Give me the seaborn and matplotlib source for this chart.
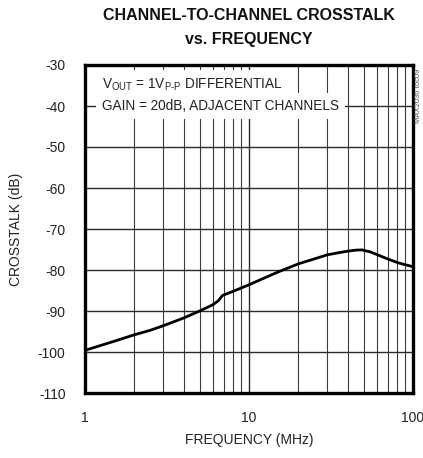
import matplotlib
matplotlib.use("Agg")
import matplotlib.pyplot as plt
import seaborn as sns
import pandas as pd
from matplotlib.ticker import FixedLocator, NullFormatter

# values
freq_mhz = [1, 1.5, 2, 2.5, 3, 4, 5, 6, 6.5, 6.9, 8, 10, 12, 15, 20, 25, 30, 35,
            40, 45, 49, 55, 60, 70, 82, 100]
crosstalk_db = [-99.6, -97.4, -95.8, -94.7, -93.6, -91.7, -90.0, -88.5, -87.5, -86.2,
                -85.2, -83.6, -82.2, -80.5, -78.5, -77.3, -76.3, -75.8, -75.4, -75.15,
                -75.1, -75.6, -76.2, -77.3, -78.3, -79.2]

y_ticks = [-30, -40, -50, -60, -70, -80, -90, -100, -110]
x_ticks = [1, 10, 100]
x_minor = [2, 3, 4, 5, 6, 7, 8, 9, 20, 30, 40, 50, 60, 70, 80, 90]

df = pd.DataFrame({"freq": freq_mhz, "xt": crosstalk_db})

sns.set_style("white")
fam = ["Liberation Sans", "DejaVu Sans"]
plt.rcParams["font.family"] = fam
plt.rcParams["mathtext.fontset"] = "custom"
plt.rcParams["mathtext.rm"] = "Liberation Sans"

fig = plt.figure(figsize=(4.23, 4.58), dpi=100)
ax = fig.add_axes([85 / 423, 1 - 393 / 458, 328 / 423, 328 / 458])

sns.lineplot(data=df, x="freq", y="xt", ax=ax, color="black", linewidth=2.0, zorder=5)

ax.set_xscale("log")
ax.set_xlim(1, 100)
ax.set_ylim(-110, -30)
ax.xaxis.set_major_locator(FixedLocator(x_ticks))
ax.xaxis.set_minor_locator(FixedLocator(x_minor))
ax.xaxis.set_minor_formatter(NullFormatter())
ax.set_xticklabels(["1", "10", "100"])
ax.set_yticks(y_ticks)
ax.set_yticklabels([str(v) for v in y_ticks])
ax.tick_params(axis="y", which="both", length=0, labelsize=10, pad=14, colors="#222222")
ax.tick_params(axis="x", which="both", length=0, labelsize=10, pad=13, colors="#222222")

ax.grid(which="major", axis="both", color="#2a2a2a", linewidth=1.0)
ax.grid(which="minor", axis="x", color="#3a3a3a", linewidth=0.8)
for s in ax.spines.values():
    s.set_linewidth(2.4)
    s.set_color("black")
    s.set_zorder(6)

ax.set_xlabel("FREQUENCY (MHz)", fontsize=10, color="#222222", labelpad=6)
ax.set_ylabel("CROSSTALK (dB)", fontsize=10, color="#222222", labelpad=11)

fig.text(0.589, 0.967, "CHANNEL-TO-CHANNEL CROSSTALK", ha="center", va="center",
         fontsize=11.5, fontweight="bold", color="#111111")
fig.text(0.589, 0.913, "vs. FREQUENCY", ha="center", va="center",
         fontsize=11.5, fontweight="bold", color="#111111")

box1 = dict(facecolor="white", edgecolor="none", pad=5.0)
box2 = dict(facecolor="white", edgecolor="none", pad=4.0)
ax.text(1.27, -34.8, r"V$_{\mathrm{OUT}}$ = 1V$_{\mathrm{P\text{-}P}}$ DIFFERENTIAL", fontsize=9.8,
        va="center", ha="left", color="#222222", bbox=box1, zorder=7)
ax.text(1.27, -40, "GAIN = 20dB, ADJACENT CHANNELS", fontsize=9.8,
        va="center", ha="left", color="#222222", bbox=box2, zorder=8)

fig.text(0.989, 0.79, "MAX2036 toc09", rotation=90, fontsize=5.5, color="#555555",
         ha="center", va="center")

fig.savefig("out.png", dpi=100)
